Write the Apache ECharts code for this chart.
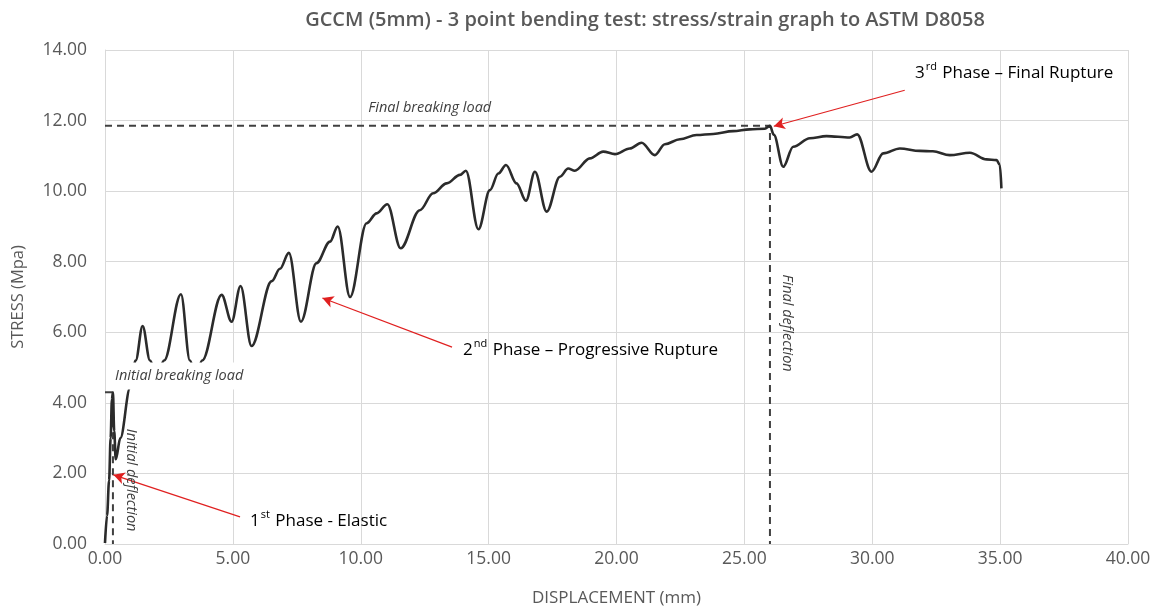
<!DOCTYPE html>
<html><head><meta charset="utf-8">
<script src="https://cdn.jsdelivr.net/npm/echarts@6/dist/echarts.min.js"></script>
<style>html,body{margin:0;padding:0;background:#fff}#c{width:1163px;height:610px}</style>
</head><body><div id="c"></div>
<script>
// ---- data ----
const displacement = [0,0.08,0.16,0.22,0.27,0.31,0.36,0.42,0.6,0.98,1.2,1.47,1.76,2.02,2.31,2.97,3.32,3.55,3.8,4.56,4.95,5.3,5.73,6.52,6.84,7.19,7.66,8.27,8.8,9.1,9.58,10.23,10.62,11.04,11.56,12.31,12.83,13.36,13.88,14.11,14.6,15.05,15.38,15.68,16.09,16.46,16.81,17.27,17.79,18.11,18.37,18.96,19.48,19.94,20.52,20.98,21.5,21.89,22.48,23.13,23.78,24.56,25.21,25.8,26.0,26.15,26.52,26.91,27.56,28.21,29.12,29.41,29.97,30.43,31.08,31.86,32.37,33.03,33.82,34.47,34.86,34.99,35.05];
const stress = [0.03,0.8,1.8,3.0,4.1,4.3,3.2,2.4,3.0,4.42,5.2,6.18,5.2,4.75,5.2,7.08,5.2,4.75,5.2,7.06,6.3,7.31,5.61,7.45,7.8,8.25,6.3,7.96,8.57,9.0,7.0,9.09,9.37,9.63,8.38,9.46,9.94,10.22,10.46,10.58,8.92,10.03,10.5,10.74,10.22,9.73,10.55,9.42,10.41,10.64,10.58,10.93,11.12,11.05,11.21,11.37,11.02,11.33,11.47,11.59,11.62,11.7,11.75,11.77,11.85,11.6,10.69,11.26,11.5,11.56,11.52,11.61,10.55,11.07,11.21,11.14,11.13,11.02,11.09,10.9,10.88,10.74,10.08];
const initialBreak = {x: 0.31, y: 4.3};
const finalBreak = {x: 26.0, y: 11.85};
const xTickValues = [0,5,10,15,20,25,30,35,40];
const yTickValues = [0,2,4,6,8,10,12,14];
const titleText = 'GCCM (5mm) - 3 point bending test: stress/strain graph to ASTM D8058';
const xName = 'DISPLACEMENT (mm)';
const yName = 'STRESS (Mpa)';
// arrows: [from, to] in data units
const arrows = [
  [[5.28, 0.77], [0.33, 1.96]],
  [[13.57, 5.58], [8.5, 6.97]],
  [[31.27, 12.86], [26.15, 11.84]]
];
// -------------------------------------

const FONT = 'Open Sans';
const grey = '#595959';
const chart = echarts.init(document.getElementById('c'), null, {renderer: 'canvas'});
const curve = displacement.map((x, i) => [x, stress[i]]);

chart.setOption({
  animation: false,
  backgroundColor: '#fff',
  title: {
    text: titleText, left: 640, top: 5, textAlign: 'center',
    textStyle: {fontFamily: FONT, fontSize: 20, fontWeight: 600, color: grey}
  },
  grid: {left: 105, right: 35, top: 50, bottom: 66, containLabel: false, outerBoundsMode: 'none'},
  xAxis: {
    type: 'value', min: xTickValues[0], max: xTickValues[xTickValues.length - 1], interval: 5,
    name: xName, nameLocation: 'middle', nameGap: 46,
    nameTextStyle: {fontFamily: FONT, fontSize: 17, color: grey},
    axisLine: {show: true, lineStyle: {color: '#d9d9d9', width: 1}},
    axisTick: {show: false},
    splitLine: {show: true, lineStyle: {color: '#d9d9d9', width: 1}},
    axisLabel: {formatter: v => v.toFixed(2), fontFamily: FONT, fontSize: 17.5, color: grey, margin: 6}
  },
  yAxis: {
    type: 'value', min: yTickValues[0], max: yTickValues[yTickValues.length - 1], interval: 2,
    name: yName, nameLocation: 'middle', nameGap: 78, nameRotate: 90,
    nameTextStyle: {fontFamily: FONT, fontSize: 16.5, color: grey},
    axisLine: {show: true, lineStyle: {color: '#d9d9d9', width: 1}},
    axisTick: {show: false},
    splitLine: {show: true, lineStyle: {color: '#d9d9d9', width: 1}},
    axisLabel: {formatter: v => v.toFixed(2), fontFamily: FONT, fontSize: 17.5, color: grey, margin: 18}
  },
  series: [
    {
      type: 'line', data: curve, smooth: 0.35, smoothMonotone: 'x', showSymbol: false, z: 3,
      lineStyle: {color: '#2b2b2b', width: 2.6}
    },
    {
      type: 'line', showSymbol: false, z: 2,
      data: [[0, initialBreak.y], [initialBreak.x, initialBreak.y], [initialBreak.x, 0]],
      lineStyle: {color: '#404040', width: 2, type: [7, 5]}
    },
    {
      type: 'line', showSymbol: false, z: 2,
      data: [[0, finalBreak.y], [finalBreak.x, finalBreak.y], [finalBreak.x, 0]],
      lineStyle: {color: '#404040', width: 2, type: [7, 5]}
    },
    {
      type: 'line', data: [], z: 4,
      markLine: {
        silent: true, symbol: ['none', 'arrow'], symbolSize: [9, 11],
        label: {show: false},
        lineStyle: {color: '#e02020', width: 1.2, type: 'solid'},
        data: arrows.map(a => [{coord: a[0]}, {coord: a[1]}])
      }
    }
  ]
});

function px(x, y) { return chart.convertToPixel({gridIndex: 0}, [x, y]); }
const rich = {
  n: {fontFamily: FONT, fontSize: 17, color: '#111', lineHeight: 24},
  s: {fontFamily: FONT, fontSize: 11, color: '#111', lineHeight: 24, verticalAlign: 'top', padding: [0, 1, 10, 1]}
};
function phaseText(pos, num, sup, rest) {
  const p = px(pos[0], pos[1]);
  return {type: 'text', x: p[0], y: p[1], z: 100,
    style: {text: '{n|' + num + '}{s|' + sup + '}{n|' + rest + '}', rich: rich, align: 'left', verticalAlign: 'middle'}};
}
function italic(pos, text, rot, bg) {
  const p = px(pos[0], pos[1]);
  return {type: 'text', x: p[0], y: p[1], rotation: rot || 0, z: 100,
    style: {text: text, fontFamily: FONT, fontStyle: 'italic', fontSize: 14.5, fill: '#404040',
      align: 'center', verticalAlign: 'middle', backgroundColor: bg || 'transparent', padding: bg ? [6, 3, 6, 3] : 0}};
}
chart.setOption({
  graphic: [
    phaseText([5.67, 0.65], '1', 'st', ' Phase - Elastic'),
    phaseText([14.0, 5.5], '2', 'nd', ' Phase \u2013 Progressive Rupture'),
    phaseText([31.67, 13.35], '3', 'rd', ' Phase \u2013 Final Rupture'),
    italic([12.7, 12.35], 'Final breaking load'),
    italic([2.9, 4.76], 'Initial breaking load', 0, '#ffffff'),
    italic([1.02, 1.81], 'Initial deflection', -Math.PI / 2),
    italic([26.66, 6.26], 'Final deflection', -Math.PI / 2)
  ]
});
</script></body></html>
